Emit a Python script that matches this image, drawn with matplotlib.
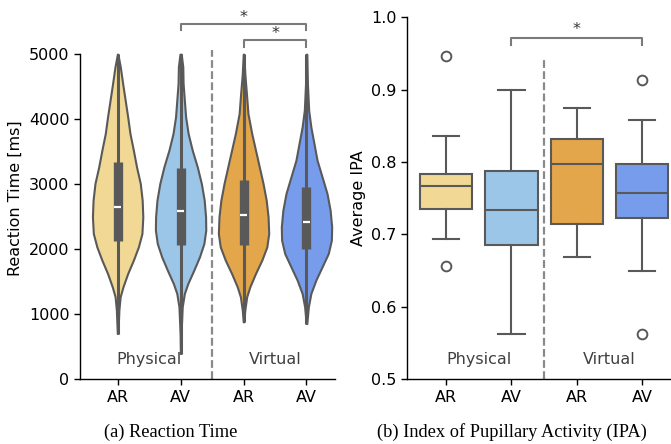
import matplotlib
matplotlib.use('Agg')
import matplotlib.pyplot as plt

# ---------------- data ----------------
categories = ['AR', 'AV', 'AR', 'AV']
groups = ['Physical', 'Virtual']
colors = ['#F1D894', '#9CC6E8', '#E3A64A', '#779CEC']

# Reaction time violins: density profiles (value grid, relative density)
rt_coords = [
    [703, 1062, 1267, 1421, 1626, 1831, 2036, 2241, 2497, 2754, 3010, 3267, 3523, 3780, 4036, 4292, 4549, 4805, 5000],
    [395, 703, 1113, 1318, 1472, 1677, 1882, 2087, 2292, 2497, 2754, 3010, 3267, 3523, 3780, 4036, 4292, 4549, 4805, 5000],
    [882, 1062, 1267, 1421, 1626, 1831, 2036, 2241, 2497, 2754, 3010, 3267, 3523, 3780, 4087, 4344, 4703, 5000],
    [856, 1113, 1318, 1523, 1728, 1933, 2138, 2344, 2600, 2856, 3113, 3369, 3626, 3882, 4138, 4549, 5000],
]
rt_density = [
    [0.005, 0.02, 0.04, 0.085, 0.16, 0.25, 0.33, 0.386, 0.40, 0.39, 0.36, 0.30, 0.25, 0.196, 0.16, 0.12, 0.08, 0.042, 0.004],
    [0.003, 0.008, 0.026, 0.06, 0.115, 0.21, 0.30, 0.37, 0.40, 0.397, 0.375, 0.33, 0.265, 0.185, 0.12, 0.08, 0.06, 0.04, 0.035, 0.01],
    [0.005, 0.02, 0.05, 0.10, 0.19, 0.29, 0.37, 0.40, 0.39, 0.36, 0.31, 0.25, 0.19, 0.13, 0.07, 0.05, 0.02, 0.005],
    [0.005, 0.03, 0.07, 0.15, 0.25, 0.35, 0.40, 0.405, 0.38, 0.33, 0.25, 0.17, 0.12, 0.07, 0.035, 0.015, 0.005],
]
rt_min = [700, 395, 880, 856]
rt_max = [5000, 5000, 5000, 5000]
rt_q1 = [2130, 2060, 2070, 2000]
rt_median = [2650, 2580, 2520, 2420]
rt_q3 = [3340, 3250, 3070, 2950]

# IPA box plots
ipa_whislo = [0.693, 0.563, 0.669, 0.650]
ipa_q1 = [0.735, 0.686, 0.715, 0.723]
ipa_median = [0.767, 0.734, 0.798, 0.757]
ipa_q3 = [0.783, 0.787, 0.832, 0.798]
ipa_whishi = [0.836, 0.900, 0.875, 0.858]
ipa_fliers = [[0.947, 0.656], [], [], [0.914, 0.562]]

# significance brackets: (from, to)
rt_sig = [(1, 3), (2, 3)]
ipa_sig = [(1, 3)]

# ---------------- style ----------------
line_c = '#595959'
fig = plt.figure(figsize=(6.71, 4.44), dpi=100)
ax1 = fig.add_axes([0.119, 0.146, 0.38, 0.815])
ax2 = fig.add_axes([0.6066, 0.146, 0.392, 0.815])
positions = list(range(len(categories)))
fs = 11.5

# ---- left: violins ----
vpstats = []
for i in positions:
    vpstats.append({'coords': rt_coords[i], 'vals': rt_density[i],
                    'mean': rt_median[i], 'median': rt_median[i],
                    'min': rt_min[i], 'max': rt_max[i]})
parts = ax1.violin(vpstats, positions=positions, widths=0.8,
                   showmeans=False, showextrema=False, showmedians=False)
for body, c in zip(parts['bodies'], colors):
    body.set_facecolor(c)
    body.set_edgecolor(line_c)
    body.set_linewidth(1.5)
    body.set_alpha(1)
    body.set_zorder(2)
    body.set_joinstyle('round')

ax1.vlines(positions, rt_min, rt_max, color=line_c, lw=2.2, zorder=3)
ax1.vlines(positions, rt_q1, rt_q3, color=line_c, lw=6.7, zorder=3,
           capstyle='butt')
ax1.hlines(rt_median, [p - 0.055 for p in positions],
           [p + 0.055 for p in positions], color='white', lw=1.6, zorder=4)

ax1.set_xlim(-0.6, 3.45)
ax1.set_ylim(0, 5567)
ax1.spines['left'].set_bounds(0, 5000)
ax1.set_yticks([0, 1000, 2000, 3000, 4000, 5000])
ax1.set_ylabel('Reaction Time [ms]', fontsize=fs)
ax1.axvline(1.5, ymin=0, ymax=5061 / 5567, color='#8a8a8a', lw=1.6,
            dashes=(3.5, 1.5), zorder=1)

# brackets left
for (a, b), y, drop in zip(rt_sig, [5466, 5211], [97, 99]):
    ax1.plot([a, a, b, b], [y - drop, y, y, y - drop], color='#7a7a7a',
             lw=1.5, clip_on=False, zorder=5)
    ax1.text((a + b) / 2, y - 15, '*', ha='center', va='bottom',
             fontsize=fs, color='#333333', clip_on=False)

ax1.text(0.5, 308, groups[0], ha='center', va='center', fontsize=fs,
         color='#404040')
ax1.text(2.5, 308, groups[1], ha='center', va='center', fontsize=fs,
         color='#404040')

# ---- right: box plots ----
stats = []
for i in positions:
    stats.append({'med': ipa_median[i], 'q1': ipa_q1[i], 'q3': ipa_q3[i],
                  'whislo': ipa_whislo[i], 'whishi': ipa_whishi[i],
                  'fliers': ipa_fliers[i]})
bp = ax2.bxp(stats, positions=positions, widths=0.8, patch_artist=True,
             boxprops=dict(edgecolor=line_c, linewidth=1.5),
             medianprops=dict(color=line_c, linewidth=1.5),
             whiskerprops=dict(color=line_c, linewidth=1.5),
             capprops=dict(color=line_c, linewidth=1.5),
             flierprops=dict(marker='o', markerfacecolor='none',
                             markeredgecolor=line_c, markersize=7,
                             markeredgewidth=1.4))
for patch, c in zip(bp['boxes'], colors):
    patch.set_facecolor(c)

ax2.set_xlim(-0.6, 3.43)
ax2.set_ylim(0.5, 1.0)
ax2.set_yticks([0.5, 0.6, 0.7, 0.8, 0.9, 1.0])
ax2.set_ylabel('Average IPA', fontsize=fs)
ax2.axvline(1.5, ymin=0, ymax=(0.942 - 0.5) / 0.5, color='#8a8a8a', lw=1.6,
            dashes=(3.5, 1.5), zorder=1)
for (a, b) in ipa_sig:
    y, drop = 0.971, 0.009
    ax2.plot([a, a, b, b], [y - drop, y, y, y - drop], color='#7a7a7a',
             lw=1.5, clip_on=False, zorder=5)
    ax2.text((a + b) / 2, y + 0.002, '*', ha='center', va='bottom',
             fontsize=fs, color='#333333', clip_on=False)
ax2.text(0.5, 0.5276, groups[0], ha='center', va='center', fontsize=fs,
         color='#404040')
ax2.text(2.5, 0.5276, groups[1], ha='center', va='center', fontsize=fs,
         color='#404040')

for ax in (ax1, ax2):
    ax.set_xticks(positions)
    ax.set_xticklabels(categories)
    ax.tick_params(labelsize=fs, width=1.0, length=4)
    ax.spines['top'].set_visible(False)
    ax.spines['right'].set_visible(False)
    for s in ('left', 'bottom'):
        ax.spines[s].set_linewidth(1.0)

fig.text(0.2548, 0.027, '(a) Reaction Time', ha='center', va='center',
         fontsize=13.2, family='Liberation Serif')
fig.text(0.763, 0.027, '(b) Index of Pupillary Activity (IPA)', ha='center',
         va='center', fontsize=13.2, family='Liberation Serif')

fig.savefig('out.png', dpi=100)
